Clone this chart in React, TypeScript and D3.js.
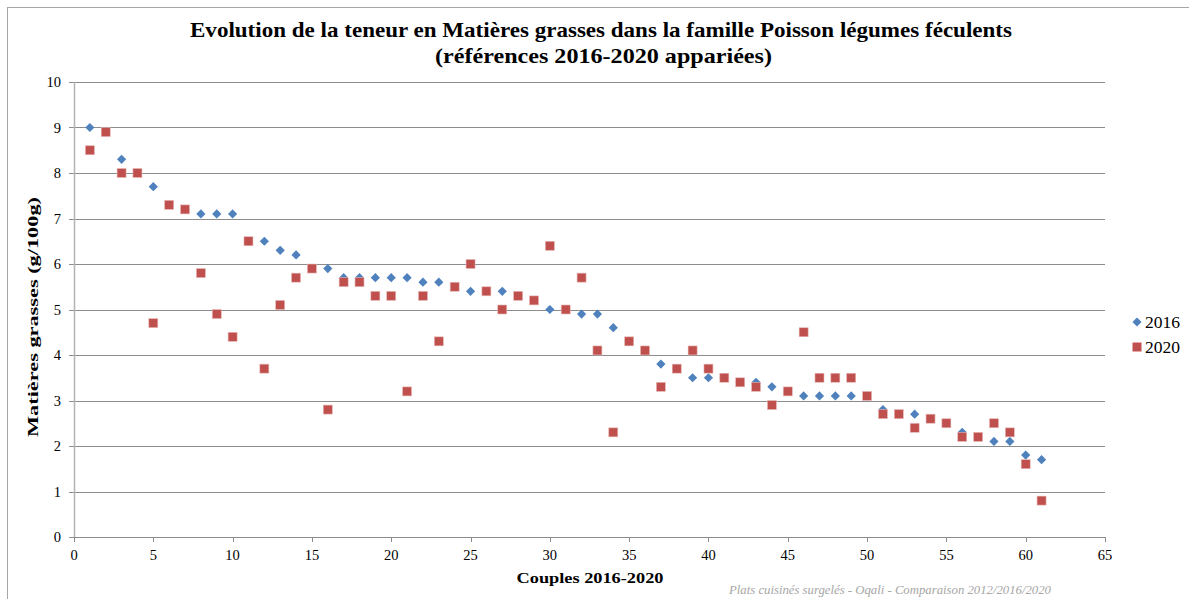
import React from "react";
import * as d3 from "d3";

const couples: number[] = d3.range(1, 62);
const values2016: number[] = [
  9.0, 8.9, 8.3, 8.0, 7.7, 7.3, 7.2, 7.1, 7.1, 7.1,
  6.5, 6.5, 6.3, 6.2, 5.9, 5.9, 5.7, 5.7, 5.7, 5.7,
  5.7, 5.6, 5.6, 5.5, 5.4, 5.4, 5.4, 5.3, 5.2, 5.0,
  5.0, 4.9, 4.9, 4.6, 4.3, 4.1, 3.8, 3.7, 3.5, 3.5,
  3.5, 3.4, 3.4, 3.3, 3.2, 3.1, 3.1, 3.1, 3.1, 3.1,
  2.8, 2.7, 2.7, 2.6, 2.5, 2.3, 2.2, 2.1, 2.1, 1.8, 1.7,
];
const values2020: number[] = [
  8.5, 8.9, 8.0, 8.0, 4.7, 7.3, 7.2, 5.8, 4.9, 4.4,
  6.5, 3.7, 5.1, 5.7, 5.9, 2.8, 5.6, 5.6, 5.3, 5.3,
  3.2, 5.3, 4.3, 5.5, 6.0, 5.4, 5.0, 5.3, 5.2, 6.4,
  5.0, 5.7, 4.1, 2.3, 4.3, 4.1, 3.3, 3.7, 4.1, 3.7,
  3.5, 3.4, 3.3, 2.9, 3.2, 4.5, 3.5, 3.5, 3.5, 3.1,
  2.7, 2.7, 2.4, 2.6, 2.5, 2.2, 2.2, 2.5, 2.3, 1.6, 0.8,
];
const xTicks: number[] = d3.range(0, 66, 5);
const yTicks: number[] = d3.range(0, 11, 1);
const seriesNames: string[] = ["2016", "2020"];

const W = 1189;
const H = 599;
const FONT = "'Liberation Serif', 'DejaVu Serif', serif";
const BLUE = "#4F81BD";
const RED = "#C0504D";

export default function App() {
  const x = d3.scaleLinear().domain([0, 65]).range([74, 1105]);
  const y = d3.scaleLinear().domain([0, 10]).range([537, 82]);
  const ds = 4.6;
  const diamondPath = `M0,${-ds}L${ds},0L0,${ds}L${-ds},0Z`;
  const sq = 9;

  return (
    <svg
      width={W}
      height={H}
      style={{ position: "absolute", left: 0, top: 0, background: "#fff" }}
      fontFamily={FONT}
    >
      <rect x={7.5} y={7.5} width={1300} height={700} fill="#fff" stroke="#a6a6a6" strokeWidth={1} />
      {/* title */}
      <text x={601} y={37} textAnchor="middle" fontSize={21} fontWeight="bold" fill="#000" textLength={822} lengthAdjust="spacingAndGlyphs">
        Evolution de la teneur en Matières grasses dans la famille Poisson légumes féculents
      </text>
      <text x={603.5} y={63} textAnchor="middle" fontSize={21} fontWeight="bold" fill="#000" textLength={337} lengthAdjust="spacingAndGlyphs">
        (références 2016-2020 appariées)
      </text>
      {/* gridlines */}
      {yTicks.filter((t) => t > 0).map((t) => (
        <line key={"g" + t} x1={74} x2={1105} y1={Math.round(y(t)) + 0.5} y2={Math.round(y(t)) + 0.5} stroke="#8c8c8c" strokeWidth={1} />
      ))}
      {/* y ticks */}
      {yTicks.map((t) => (
        <g key={"yt" + t}>
          <line x1={69} x2={74} y1={Math.round(y(t)) + 0.5} y2={Math.round(y(t)) + 0.5} stroke="#8c8c8c" />
          <text x={61} y={y(t)} dy="0.35em" textAnchor="end" fontSize={14.5} fill="#000">
            {t}
          </text>
        </g>
      ))}
      {/* axes */}
      <line x1={74.5} x2={74.5} y1={82} y2={537} stroke="#b3b3b3" strokeWidth={1.5} />
      <line x1={74} x2={1105} y1={537.5} y2={537.5} stroke="#8c8c8c" strokeWidth={1} />
      {xTicks.map((t) => (
        <g key={"xt" + t}>
          <line x1={Math.round(x(t)) + 0.5} x2={Math.round(x(t)) + 0.5} y1={537} y2={542} stroke="#8c8c8c" />
          <text x={x(t)} y={560} textAnchor="middle" fontSize={14.5} fill="#000">
            {t}
          </text>
        </g>
      ))}
      {/* axis titles */}
      <text x={590} y={583} textAnchor="middle" fontSize={15.5} fontWeight="bold" fill="#000" textLength={147} lengthAdjust="spacingAndGlyphs">
        Couples 2016-2020
      </text>
      <text transform="translate(38,317) rotate(-90)" textAnchor="middle" fontSize={15.5} fontWeight="bold" fill="#000" textLength={240} lengthAdjust="spacingAndGlyphs">
        Matières grasses (g/100g)
      </text>
      {/* series 2016 */}
      {couples.map((c, i) => (
        <path key={"b" + c} d={diamondPath} transform={`translate(${x(c)},${y(values2016[i])})`} fill={BLUE} />
      ))}
      {/* series 2020 */}
      {couples.map((c, i) => (
        <rect key={"r" + c} x={x(c) - sq / 2} y={y(values2020[i]) - sq / 2} width={sq} height={sq} fill={RED} stroke="#e6b8b7" strokeWidth={0.6} />
      ))}
      {/* legend */}
      <path d={diamondPath} transform="translate(1137,322)" fill={BLUE} />
      <text x={1145} y={328} fontSize={17.5} fill="#000">{seriesNames[0]}</text>
      <rect x={1137 - sq / 2} y={347 - sq / 2} width={sq} height={sq} fill={RED} />
      <text x={1145} y={353} fontSize={17.5} fill="#000">{seriesNames[1]}</text>
      {/* footnote */}
      <text x={729} y={594} fontSize={11.5} fontStyle="italic" fill="#a6a6a6" textLength={322} lengthAdjust="spacingAndGlyphs">
        Plats cuisinés surgelés - Oqali - Comparaison 2012/2016/2020
      </text>
    </svg>
  );
}
